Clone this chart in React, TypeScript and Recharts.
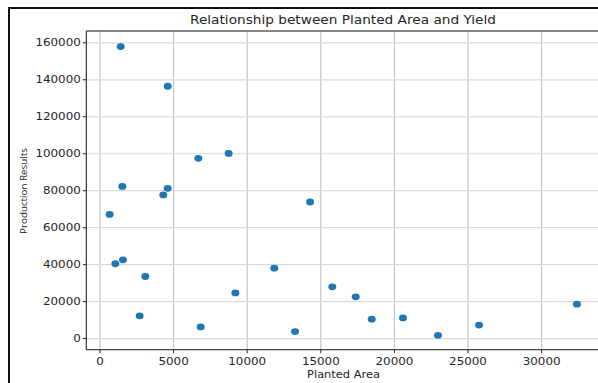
import React from "react";
import {
    ScatterChart, Scatter, XAxis, YAxis, CartesianGrid, ReferenceLine
} from "recharts";

// values
const plantedArea = [
    1405, 4600, 6680, 8740, 1517, 4600, 4300, 656, 1043, 1563, 3080, 2695,
    6840, 9195, 11840, 13250, 14270, 15780, 17370, 18460, 20580, 22960, 25750, 32400,
];
const productionResults = [
    158000, 136500, 97500, 100200, 82300, 81300, 77700, 67200, 40500, 42600, 33600, 12300,
    6300, 24700, 38100, 3800, 73900, 28000, 22600, 10500, 11200, 1800, 7300, 18600,
];
const xTicks = [0, 5000, 10000, 15000, 20000, 25000, 30000];
const yTicks = [0, 20000, 40000, 60000, 80000, 100000, 120000, 140000, 160000];
const xDomain = [-930, 34000];
const yDomain = [-6000, 166400];

const chartTitle = "Relationship between Planted Area and Yield";
const xLabel = "Planted Area";
const yLabel = "Production Results";

const FONT = "'DejaVu Sans', sans-serif";
const INK = "#262626";
const STRETCH = 1.19;

const points = plantedArea.map((x, i) => ({ x, y: productionResults[i] }));

const XTick = (props: any) => (
    <g transform={`translate(${props.x},${props.y + 9.5}) scale(${STRETCH},1)`}>
        <text textAnchor="middle" fontFamily={FONT} fontSize={10} fill={INK}>
            {props.payload.value}
        </text>
    </g>
);

const YTick = (props: any) => (
    <g transform={`translate(${props.x},${props.y + 3.6}) scale(${STRETCH},1)`}>
        <text textAnchor="end" fontFamily={FONT} fontSize={10} fill={INK}>
            {props.payload.value}
        </text>
    </g>
);

const Dot = (props: any) => (
    <ellipse cx={props.cx} cy={props.cy} rx={4} ry={3.4} fill="#1f77b4" />
);

export default function App() {
    return (
        <div style={{ position: "fixed", left: 0, top: 0, width: 598, height: 383, overflow: "hidden", background: "#fff" }}>
            {/* figure frame */}
            <div style={{ position: "absolute", left: 8, top: 7, width: 660, height: 420, border: "2px solid #111" }} />

            <div style={{ position: "absolute", left: 0, top: 0 }}>
                <ScatterChart width={640} height={383} margin={{ top: 31, right: 39.5, left: 0, bottom: 0 }}>
                    <CartesianGrid horizontal={false} stroke="#c6c6c6" strokeWidth={1.2} />
                    <CartesianGrid vertical={false} stroke="#d9d9d9" strokeWidth={1.2} />
                    <XAxis
                        type="number"
                        dataKey="x"
                        domain={xDomain}
                        ticks={xTicks}
                        allowDataOverflow
                        height={33.3}
                        tickSize={3.5}
                        stroke={INK}
                        tick={(p: any) => <XTick {...p} />}
                    />
                    <YAxis
                        type="number"
                        dataKey="y"
                        domain={yDomain}
                        ticks={yTicks}
                        allowDataOverflow
                        width={86.3}
                        tickSize={3.5}
                        stroke={INK}
                        tick={(p: any) => <YTick {...p} />}
                    />
                    <ReferenceLine y={yDomain[1]} stroke={INK} strokeWidth={1} />
                    <Scatter data={points} shape={(p: any) => <Dot {...p} />} isAnimationActive={false} />
                </ScatterChart>
            </div>

            {/* title and axis labels */}
            <svg width={598} height={383} style={{ position: "absolute", left: 0, top: 0, pointerEvents: "none" }}>
                <g transform={`translate(343,24.3) scale(${STRETCH},1)`}>
                    <text textAnchor="middle" fontFamily={FONT} fontSize={11.5} fill={INK}>{chartTitle}</text>
                </g>
                <g transform={`translate(343.5,377.5) scale(1.14,1)`}>
                    <text textAnchor="middle" fontFamily={FONT} fontSize={10} fill={INK}>{xLabel}</text>
                </g>
                <text
                    transform="translate(27,191) rotate(-90)"
                    textAnchor="middle"
                    fontFamily="'Open Sans', sans-serif"
                    fontSize={9.8}
                    fill={INK}
                >
                    {yLabel}
                </text>
            </svg>
        </div>
    );
}
